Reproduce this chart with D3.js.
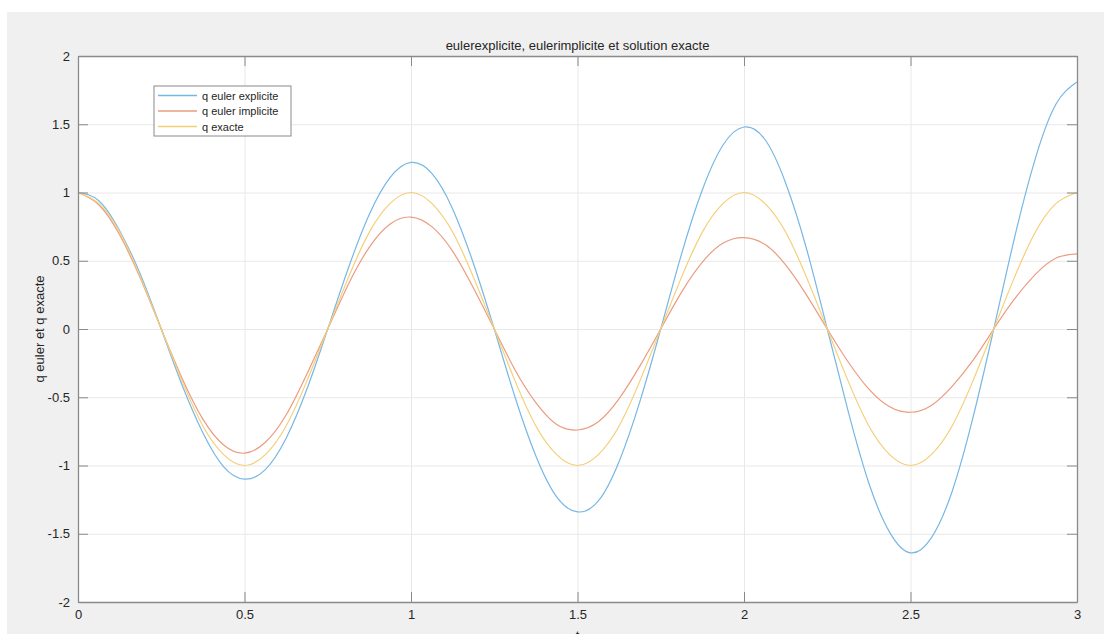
<!DOCTYPE html>
<html>
<head>
<meta charset="utf-8">
<script src="https://cdn.jsdelivr.net/npm/d3@7"></script>
<style>
  body { margin: 0; background: #fff; }
  svg { display: block; font-family: "Liberation Sans", Arial, sans-serif; }
</style>
</head>
<body>
<div id="content"></div>
<script>
// temps t
var times = [0, 0.0625, 0.125, 0.1875, 0.25, 0.3125, 0.375, 0.4375, 0.5, 0.5625, 0.625, 0.6875,
  0.75, 0.8125, 0.875, 0.9375, 1, 1.0625, 1.125, 1.1875, 1.25, 1.3125, 1.375, 1.4375,
  1.5, 1.5625, 1.625, 1.6875, 1.75, 1.8125, 1.875, 1.9375, 2, 2.0625, 2.125, 2.1875,
  2.25, 2.3125, 2.375, 2.4375, 2.5, 2.5625, 2.625, 2.6875, 2.75, 2.8125, 2.875, 2.9375, 3];

var qExplicite = [1.00, 0.94, 0.72, 0.40, 0, -0.41, -0.76, -1.01, -1.10, -1.03, -0.80, -0.44,
  0, 0.45, 0.84, 1.11, 1.22, 1.14, 0.88, 0.48, 0, -0.50, -0.93, -1.23,
  -1.34, -1.26, -0.97, -0.53, 0, 0.55, 1.02, 1.35, 1.48, 1.39, 1.07, 0.59,
  0, -0.60, -1.13, -1.49, -1.64, -1.53, -1.19, -0.65, 0, 0.67, 1.25, 1.65, 1.81];

var qImplicite = [1.00, 0.91, 0.69, 0.37, 0, -0.36, -0.66, -0.85, -0.91, -0.83, -0.63, -0.33,
  0, 0.33, 0.60, 0.77, 0.82, 0.75, 0.57, 0.30, 0, -0.30, -0.54, -0.70,
  -0.74, -0.68, -0.51, -0.27, 0, 0.27, 0.49, 0.63, 0.67, 0.62, 0.47, 0.25,
  0, -0.24, -0.44, -0.57, -0.61, -0.56, -0.42, -0.23, 0, 0.22, 0.40, 0.52, 0.55];

var qExacte = [1.00, 0.92, 0.71, 0.38, 0, -0.38, -0.71, -0.92, -1.00, -0.92, -0.71, -0.38,
  0, 0.38, 0.71, 0.92, 1.00, 0.92, 0.71, 0.38, 0, -0.38, -0.71, -0.92,
  -1.00, -0.92, -0.71, -0.38, 0, 0.38, 0.71, 0.92, 1.00, 0.92, 0.71, 0.38,
  0, -0.38, -0.71, -0.92, -1.00, -0.92, -0.71, -0.38, 0, 0.38, 0.71, 0.92, 1.00];

var seriesNames = ["q euler explicite", "q euler implicite", "q exacte"];
var seriesColors = ["#78b7e4", "#eb9c80", "#f4cf78"];
var xTicks = [0, 0.5, 1, 1.5, 2, 2.5, 3];
var yTicks = [-2, -1.5, -1, -0.5, 0, 0.5, 1, 1.5, 2];

var width = 1110, height = 634,
    plot = { left: 78, right: 1077, top: 56, bottom: 602 };

var svg = d3.select("#content").append("svg")
    .attr("width", width)
    .attr("height", height);

// fond de la figure
svg.append("rect")
   .attr("x", 7).attr("y", 12)
   .attr("width", 1097).attr("height", height - 12)
   .attr("fill", "#f0f0f0");

svg.append("rect")
   .attr("x", plot.left).attr("y", plot.top)
   .attr("width", plot.right - plot.left).attr("height", plot.bottom - plot.top)
   .attr("fill", "#fff");

var x = d3.scaleLinear().domain([0, 3]).range([plot.left, plot.right]),
    y = d3.scaleLinear().domain([-2, 2]).range([plot.bottom, plot.top]);

// libelles avec un tiret simple, comme matlab
var plainFormat = function (d) { return String(d); };

// grille
svg.append("g")
   .attr("transform", "translate(0," + plot.bottom + ")")
   .call(d3.axisBottom(x).tickValues(xTicks).tickSize(-(plot.bottom - plot.top)).tickFormat(""))
   .call(function (g) {
     g.select(".domain").remove();
     g.selectAll("line").attr("stroke", "#e8e8e8");
   });

svg.append("g")
   .attr("transform", "translate(" + plot.left + ",0)")
   .call(d3.axisLeft(y).tickValues(yTicks).tickSize(-(plot.right - plot.left)).tickFormat(""))
   .call(function (g) {
     g.select(".domain").remove();
     g.selectAll("line").attr("stroke", "#e8e8e8");
   });

// courbes
var series = [qExplicite, qImplicite, qExacte];
var line = d3.line()
    .x(function (d, i) { return x(times[i]); })
    .y(function (d) { return y(d); })
    .curve(d3.curveNatural);

svg.append("g").selectAll("path").data(series).enter()
   .append("path")
   .attr("d", line)
   .attr("fill", "none")
   .attr("stroke", function (d, i) { return seriesColors[i]; })
   .attr("stroke-width", 1.2);

// axes (boite avec graduations interieures)
var axisColor = "#8a8a8a", textColor = "#262626";

function styleAxis(g) {
  g.select(".domain").attr("stroke", axisColor).attr("stroke-width", 1.3);
  g.selectAll(".tick line").attr("stroke", axisColor);
  g.selectAll(".tick text").attr("fill", textColor).style("font-size", "13px")
   .style("font-family", "'Liberation Sans', Arial, sans-serif");
}

svg.append("g")
   .attr("transform", "translate(0," + plot.bottom + ")")
   .call(d3.axisBottom(x).tickValues(xTicks).tickSizeInner(-10).tickSizeOuter(0).tickPadding(8)
           .tickFormat(plainFormat))
   .call(styleAxis);

svg.append("g")
   .attr("transform", "translate(0," + plot.top + ")")
   .call(d3.axisTop(x).tickValues(xTicks).tickSizeInner(-10).tickSizeOuter(0).tickFormat(""))
   .call(styleAxis);

svg.append("g")
   .attr("transform", "translate(" + plot.left + ",0)")
   .call(d3.axisLeft(y).tickValues(yTicks).tickSizeInner(-10).tickSizeOuter(0).tickPadding(8)
           .tickFormat(plainFormat))
   .call(styleAxis);

svg.append("g")
   .attr("transform", "translate(" + plot.right + ",0)")
   .call(d3.axisRight(y).tickValues(yTicks).tickSizeInner(-10).tickSizeOuter(0).tickFormat(""))
   .call(styleAxis);

// titres
svg.append("text")
   .attr("x", (plot.left + plot.right) / 2).attr("y", 50)
   .attr("text-anchor", "middle")
   .attr("fill", textColor).style("font-size", "13px")
   .text("eulerexplicite, eulerimplicite et solution exacte");

svg.append("text")
   .attr("transform", "translate(44," + (plot.top + plot.bottom) / 2 + ") rotate(-90)")
   .attr("text-anchor", "middle")
   .attr("fill", textColor).style("font-size", "13px")
   .text("q euler et q exacte");

// le "t" est coupe par le bas de la figure dans l'original
svg.append("text")
   .attr("x", (plot.left + plot.right) / 2).attr("y", 640)
   .attr("text-anchor", "middle")
   .attr("fill", textColor).style("font-size", "13px")
   .text("t");

// legende
var legend = svg.append("g").attr("transform", "translate(154,86)");
legend.append("rect")
   .attr("width", 137).attr("height", 50)
   .attr("fill", "#fff").attr("stroke", "#8a8a8a");

var items = legend.selectAll("g.item").data(seriesNames).enter()
   .append("g").attr("class", "item")
   .attr("transform", function (d, i) { return "translate(0," + (9.5 + i * 15.5) + ")"; });

items.append("line")
   .attr("x1", 4).attr("x2", 43)
   .attr("stroke", function (d, i) { return seriesColors[i]; })
   .attr("stroke-width", 1.5);

items.append("text")
   .attr("x", 48).attr("y", 4)
   .attr("fill", textColor).style("font-size", "11px")
   .text(function (d) { return d; });
</script>
</body>
</html>
